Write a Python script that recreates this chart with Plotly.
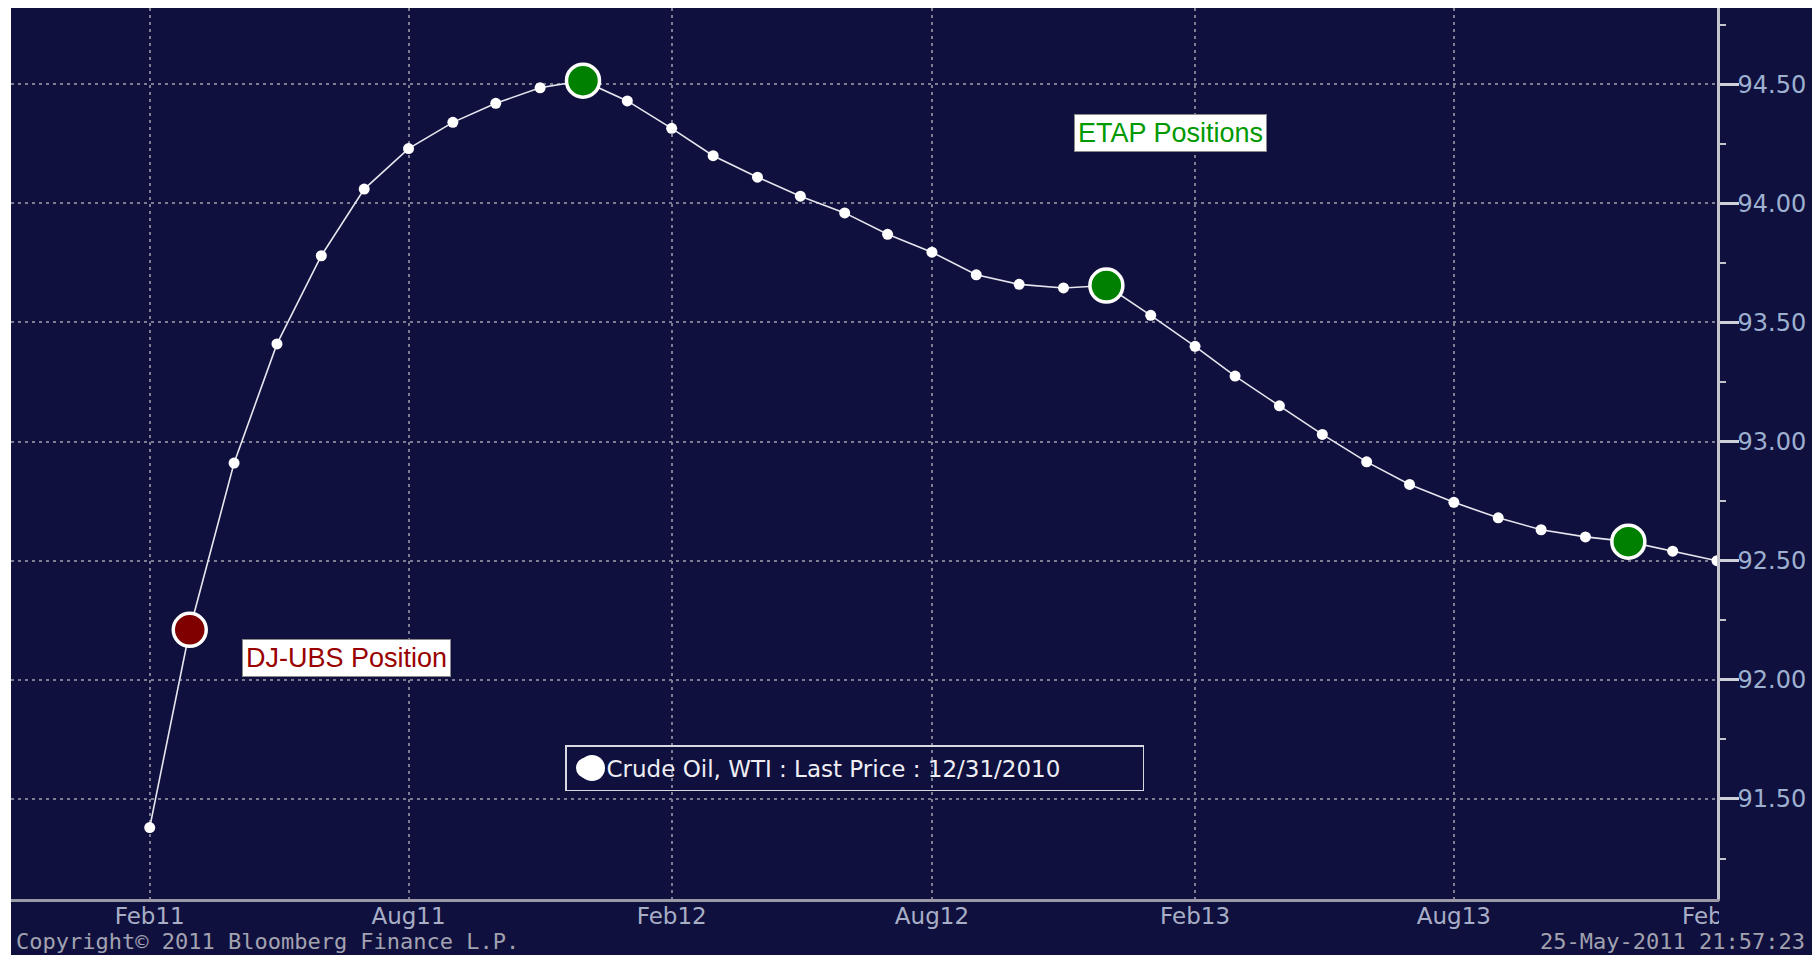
import plotly.graph_objects as go

# ---- data ----
months = [
    "2011-02-01", "2011-03-01", "2011-04-01", "2011-05-01", "2011-06-01", "2011-07-01",
    "2011-08-01", "2011-09-01", "2011-10-01", "2011-11-01", "2011-12-01", "2012-01-01",
    "2012-02-01", "2012-03-01", "2012-04-01", "2012-05-01", "2012-06-01", "2012-07-01",
    "2012-08-01", "2012-09-01", "2012-10-01", "2012-11-01", "2012-12-01", "2013-01-01",
    "2013-02-01", "2013-03-01", "2013-04-01", "2013-05-01", "2013-06-01", "2013-07-01",
    "2013-08-01", "2013-09-01", "2013-10-01", "2013-11-01", "2013-12-01", "2014-01-01",
    "2014-02-01",
]
price = [
    91.38, 92.21, 92.91, 93.41, 93.78, 94.06,
    94.23, 94.34, 94.42, 94.485, 94.515, 94.43,
    94.315, 94.20, 94.11, 94.03, 93.96, 93.87,
    93.795, 93.70, 93.66, 93.645, 93.655, 93.53,
    93.40, 93.275, 93.15, 93.03, 92.915, 92.82,
    92.745, 92.68, 92.63, 92.60, 92.58, 92.54,
    92.50,
]
dj_ubs_months = ["2011-03-01"]
etap_months = ["2011-12-01", "2012-12-01", "2013-12-01"]
y_tick_vals = [91.5, 92.0, 92.5, 93.0, 93.5, 94.0, 94.5]
y_tick_text = ["91.50", "92.00", "92.50", "93.00", "93.50", "94.00", "94.50"]
legend_label = "Crude Oil, WTI : Last Price : 12/31/2010"

dj_ubs_vals = [price[months.index(m)] for m in dj_ubs_months]
etap_vals = [price[months.index(m)] for m in etap_months]

NAVY = "#10103e"
OFF = 8                      # page body margin added by the browser
W, H = 1820 - OFF, 955 - OFF
L, R, T, B = 3, 103, 0, 56
plot_w = W - L - R
plot_h = H - T - B

def px_x(p):                 # reference-picture x pixel -> paper x
    return (p - OFF - L) / plot_w

def px_y(p):                 # reference-picture y pixel -> paper y
    return (H - B - (p - OFF)) / plot_h

fig = go.Figure()

fig.add_trace(go.Scatter(
    x=months, y=price, mode="lines+markers",
    line=dict(color="#e6e6ee", width=1.6),
    marker=dict(color="#ffffff", size=11),
    showlegend=False,
))
fig.add_trace(go.Scatter(
    x=dj_ubs_months, y=dj_ubs_vals, mode="markers",
    marker=dict(color="#800000", size=33, line=dict(color="#ffffff", width=3.5)),
    showlegend=False,
))
fig.add_trace(go.Scatter(
    x=etap_months, y=etap_vals, mode="markers",
    marker=dict(color="#008000", size=33, line=dict(color="#ffffff", width=3.5)),
    showlegend=False,
))
# legend entry
fig.add_trace(go.Scatter(
    x=[None], y=[None], mode="markers", name=legend_label,
    marker=dict(color="#ffffff", size=24, line=dict(color="#ffffff", width=6)),
    showlegend=True,
))

fig.update_layout(
    width=W, height=H,
    margin=dict(l=L, r=R, t=T, b=B, pad=0),
    paper_bgcolor=NAVY, plot_bgcolor=NAVY,
    showlegend=True,
    legend=dict(
        orientation="h",
        x=px_x(565), y=px_y(745), xanchor="left", yanchor="top",
        bgcolor="rgba(0,0,0,0)", bordercolor="#d8d8e0", borderwidth=1.5,
        font=dict(family="DejaVu Sans", size=23, color="#eeeef4"),
        itemsizing="trace", itemwidth=30,
        entrywidth=531, entrywidthmode="pixels",
    ),
    xaxis=dict(
        type="date",
        range=["2010-10-27", "2014-02-01"],
        tick0="2011-02-01", dtick="M6", tickformat="%b%y",
        showgrid=True, gridcolor="#7c7c92", griddash="3px,4px", gridwidth=1.5,
        showline=True, linecolor="#9a9aa6", linewidth=2.5,
        ticks="", zeroline=False,
        ticklabelstandoff=-5,
        tickfont=dict(family="DejaVu Sans", size=23, color="#a8aec6"),
    ),
    yaxis=dict(
        side="right",
        range=[91.08, 94.82],
        tickvals=y_tick_vals, ticktext=y_tick_text,
        showgrid=True, gridcolor="#7c7c92", griddash="3px,4px", gridwidth=1.5,
        showline=True, linecolor="#c4c4cc", linewidth=2.5,
        ticks="outside", ticklen=19, tickwidth=3, tickcolor="#d0d0d8",
        ticklabelstandoff=-6,
        zeroline=False,
        minor=dict(dtick=0.25, tick0=91.0, ticks="outside", ticklen=6, tickwidth=1.5,
                   tickcolor="#c4c4cc", showgrid=False),
        tickfont=dict(family="DejaVu Sans", size=24, color="#9db0d0"),
    ),
)

# white outer strip on the left (image border in the reference)
fig.add_shape(type="rect", xref="paper", yref="paper", layer="above",
              x0=px_x(OFF), x1=px_x(11), y0=-1, y1=2,
              fillcolor="#ffffff", line=dict(width=0))
# clip the last x tick label at the plot edge like the reference
fig.add_shape(type="rect", xref="paper", yref="paper", layer="above",
              x0=px_x(1719), x1=px_x(1795), y0=px_y(932), y1=px_y(901),
              fillcolor=NAVY, line=dict(width=0))
# larger legend symbol, as in the reference
fig.add_shape(type="circle", xref="paper", yref="paper", layer="above",
              x0=px_x(579), x1=px_x(605), y0=px_y(781), y1=px_y(755),
              fillcolor="#ffffff", line=dict(width=0))

fig.add_annotation(
    text="DJ-UBS Position", xref="paper", yref="paper",
    x=px_x(346), y=px_y(658), xanchor="center", yanchor="middle",
    showarrow=False, bgcolor="#ffffff", bordercolor="#8a8a8a", borderwidth=1, borderpad=3,
    font=dict(family="Liberation Sans", size=27, color="#990000"),
)
fig.add_annotation(
    text="ETAP Positions", xref="paper", yref="paper",
    x=px_x(1170), y=px_y(133), xanchor="center", yanchor="middle",
    showarrow=False, bgcolor="#ffffff", bordercolor="#8a8a8a", borderwidth=1, borderpad=3,
    font=dict(family="Liberation Sans", size=27, color="#009900"),
)
fig.add_annotation(
    text="Copyright\u00a9 2011 Bloomberg Finance L.P.", xref="paper", yref="paper",
    x=px_x(14), y=px_y(941), xanchor="left", yanchor="middle", showarrow=False,
    font=dict(family="DejaVu Sans Mono", size=22, color="#a2a2b0"),
)
fig.add_annotation(
    text="25-May-2011 21:57:23", xref="paper", yref="paper",
    x=px_x(1807), y=px_y(941), xanchor="right", yanchor="middle", showarrow=False,
    font=dict(family="DejaVu Sans Mono", size=22, color="#a2a2b0"),
)

fig.write_html("out.html")
